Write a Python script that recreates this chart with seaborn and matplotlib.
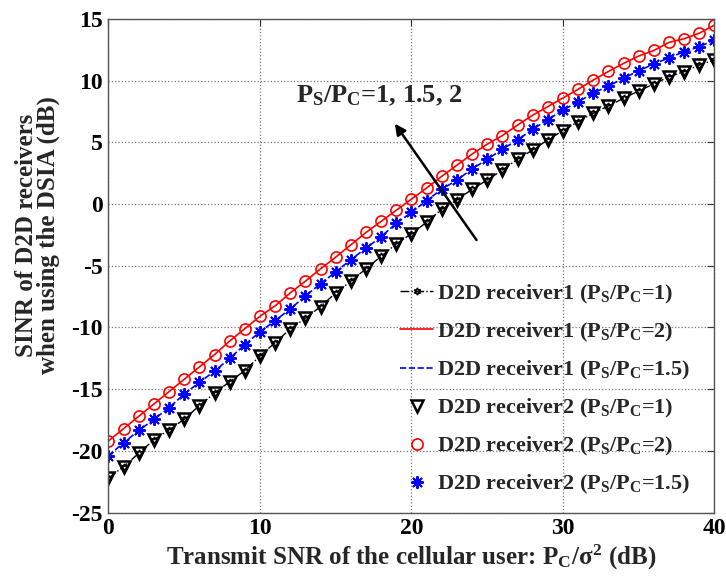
import numpy as np
import pandas as pd
import seaborn as sns
import matplotlib.pyplot as plt
from matplotlib.lines import Line2D

# Values
snr_db = list(range(0, 41))

sinr_ratio2 = [-19.2, -18.2, -17.2, -16.2, -15.2, -14.2, -13.2, -12.2, -11.1, -10.1,
               -9.1, -8.25, -7.2, -6.25, -5.25, -4.3, -3.3, -2.3, -1.4, -0.5,
               0.4, 1.3, 2.25, 3.15, 4.05, 4.85, 5.55, 6.4, 7.2, 7.9,
               8.6, 9.3, 10.05, 10.75, 11.4, 12.0, 12.45, 13.1, 13.4, 13.85, 14.5]

sinr_ratio15 = [-20.4, -19.35, -18.35, -17.45, -16.5, -15.4, -14.45, -13.55, -12.5, -11.4,
                -10.35, -9.45, -8.5, -7.45, -6.45, -5.5, -4.5, -3.58, -2.64, -1.56,
                -0.68, 0.28, 1.2, 1.95, 2.84, 3.63, 4.44, 5.2, 6.05, 6.85,
                7.6, 8.3, 8.98, 9.57, 10.19, 10.81, 11.35, 11.86, 12.35, 12.76, 13.3]

sinr_ratio1 = [-22.2, -21.28, -20.2, -19.1, -18.3, -17.44, -16.33, -15.33, -14.39, -13.5,
               -12.31, -11.23, -10.12, -9.25, -8.31, -7.2, -6.25, -5.24, -4.23, -3.23,
               -2.4, -1.48, -0.42, 0.33, 1.2, 1.95, 2.76, 3.63, 4.38, 5.2,
               5.95, 6.68, 7.36, 7.95, 8.57, 9.17, 9.73, 10.32, 10.73, 11.27, 11.68]

x_ticks = [0, 10, 20, 30, 40]
y_ticks = [-25, -20, -15, -10, -5, 0, 5, 10, 15]

labels = ["D2D receiver1 (P$_\\mathrm{S}$/P$_\\mathrm{C}$=1)",
          "D2D receiver1 (P$_\\mathrm{S}$/P$_\\mathrm{C}$=2)",
          "D2D receiver1 (P$_\\mathrm{S}$/P$_\\mathrm{C}$=1.5)",
          "D2D receiver2 (P$_\\mathrm{S}$/P$_\\mathrm{C}$=1)",
          "D2D receiver2 (P$_\\mathrm{S}$/P$_\\mathrm{C}$=2)",
          "D2D receiver2 (P$_\\mathrm{S}$/P$_\\mathrm{C}$=1.5)"]

sns.set_theme(style="white")
plt.rcParams['font.family'] = ['Liberation Serif', 'DejaVu Serif']
plt.rcParams['font.weight'] = 'bold'
plt.rcParams['axes.labelweight'] = 'bold'
plt.rcParams['axes.unicode_minus'] = False
plt.rcParams['mathtext.fontset'] = 'custom'
plt.rcParams['mathtext.rm'] = 'Liberation Serif:bold'
plt.rcParams['mathtext.it'] = 'Liberation Serif:bold'
plt.rcParams['mathtext.bf'] = 'Liberation Serif:bold'

fig = plt.figure(figsize=(7.26, 5.84), dpi=100)
ax = fig.add_axes([0.1494, 0.1224, 0.8347, 0.8451])

hexagram = (6, 1, 0)
asterisk = (8, 2, 0)

# receiver1 curves
sns.lineplot(x=snr_db, y=sinr_ratio1, ax=ax, color='black', linestyle='-.', lw=1.0,
             marker=hexagram, markersize=5, markerfacecolor='none',
             markeredgecolor='black', markeredgewidth=1.2)
sns.lineplot(x=snr_db, y=sinr_ratio2, ax=ax, color='red', linestyle='-', lw=1.2)
sns.lineplot(x=snr_db, y=sinr_ratio15, ax=ax, color='blue', linestyle='--', lw=1.2)
# receiver2 markers
sns.lineplot(x=snr_db, y=sinr_ratio1, ax=ax, color='black', linestyle='none',
             marker='v', markersize=8.5, markerfacecolor='none',
             markeredgecolor='black', markeredgewidth=1.8)
sns.lineplot(x=snr_db, y=sinr_ratio2, ax=ax, color='red', linestyle='none',
             marker='o', markersize=8, markerfacecolor='none',
             markeredgecolor='red', markeredgewidth=1.2)
sns.lineplot(x=snr_db, y=sinr_ratio15, ax=ax, color='blue', linestyle='none',
             marker=asterisk, markersize=9, markeredgecolor='blue',
             markeredgewidth=1.4)

ax.set_xlim(0, 40)
ax.set_ylim(-25, 15)
ax.set_xticks(x_ticks)
ax.set_yticks(y_ticks)
ax.tick_params(direction='in', length=5, width=0.8, colors='#333333',
               top=True, right=True, labelsize=17, pad=4)
for lab in ax.get_xticklabels() + ax.get_yticklabels():
    lab.set_fontweight('bold')
    lab.set_color('black')
ax.grid(True, linestyle=':', color='#777777', lw=0.9)
for sp in ax.spines.values():
    sp.set_color('#555555')
    sp.set_linewidth(1.0)

ax.set_xlabel("Transmit SNR of the cellular user: P$_\\mathrm{C}$/$\\sigma^2$ (dB)",
              fontsize=18, fontweight='bold', labelpad=3)
ax.set_ylabel("SINR of D2D receivers\nwhen using the DSIA (dB)",
              fontsize=18, fontweight='bold', linespacing=0.9)
ax.yaxis.set_label_coords(-0.08, 0.562)

# arrow and annotation
ax.annotate("", xy=(18.8, 6.7), xytext=(24.4, -3.1),
            arrowprops=dict(arrowstyle='-|>', color='black', lw=1.8,
                            mutation_scale=16))
ax.text(12.4, 8.8, "P$_\\mathrm{S}$/P$_\\mathrm{C}$=1, 1.5, 2", fontsize=19,
        fontweight='bold', va='center', ha='left')

handles = [
    Line2D([], [], color='black', linestyle='-.', lw=1.0, marker=hexagram,
           markersize=5, markerfacecolor='none', markeredgecolor='black',
           markeredgewidth=1.2),
    Line2D([], [], color='red', linestyle='-', lw=1.2),
    Line2D([], [], color='blue', linestyle='--', lw=1.2),
    Line2D([], [], color='black', linestyle='none', marker='v', markersize=8.5,
           markerfacecolor='none', markeredgecolor='black', markeredgewidth=1.8),
    Line2D([], [], color='red', linestyle='none', marker='o', markersize=8,
           markerfacecolor='none', markeredgecolor='red', markeredgewidth=1.2),
    Line2D([], [], color='blue', linestyle='none', marker=asterisk, markersize=9,
           markeredgecolor='blue', markeredgewidth=1.4),
]
leg = ax.legend(handles, labels, loc='upper left', bbox_to_anchor=(0.481, 0.466),
                frameon=False, fontsize=16, handlelength=1.5, handletextpad=0.15,
                labelspacing=0.68, borderpad=0, borderaxespad=0)
for t in leg.get_texts():
    t.set_fontweight('bold')

fig.savefig("out.png", dpi=100)
